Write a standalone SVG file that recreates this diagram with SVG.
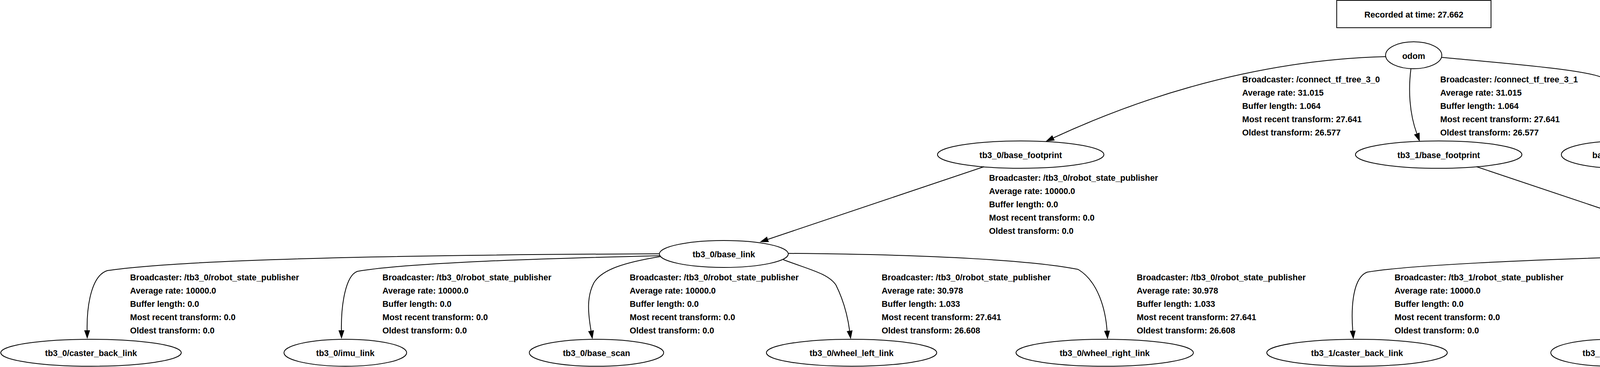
<svg xmlns="http://www.w3.org/2000/svg" width="6589" height="940" viewBox="0 0 6589 940">
<defs>
<style>
text{font-family:"Liberation Sans",Arial,sans-serif;font-weight:bold;font-size:21.5px;fill:#000}
.node ellipse,.node rect{fill:none;stroke:#000;stroke-width:2}
.node text{text-anchor:middle}
.edge path{fill:none;stroke:#000;stroke-width:2;marker-end:url(#arrow)}
</style>
<marker id="arrow" markerUnits="userSpaceOnUse" markerWidth="22" markerHeight="16" viewBox="0 0 22 16" refX="0" refY="8" orient="auto">
<path d="M0,0.5 L22,8 L0,15.5 z" fill="#000"/>
</marker>
</defs>
<rect x="0" y="0" width="6589" height="940" fill="#fff"/>

<g id="title" class="node">
<rect x="3422" y="1" width="395" height="70"/>
<text x="3619.5" y="45">Recorded at time: 27.662</text>
</g>

<g id="odom" class="node"><ellipse cx="3619" cy="141.5" rx="72" ry="34.5"/><text x="3619" y="151">odom</text></g>
<g id="tb3_0_base_footprint" class="node"><ellipse cx="2613" cy="396" rx="213" ry="35"/><text x="2613" y="404.5">tb3_0/base_footprint</text></g>
<g id="tb3_1_base_footprint" class="node"><ellipse cx="3683" cy="396" rx="213" ry="35"/><text x="3683" y="404.5">tb3_1/base_footprint</text></g>
<g id="base_footprint" class="node"><ellipse cx="4151" cy="396" rx="154" ry="35"/><text x="4151" y="404.5">base_footprint</text></g>
<g id="tb3_0_base_link" class="node"><ellipse cx="1853" cy="650.5" rx="165" ry="34.5"/><text x="1853" y="658.5">tb3_0/base_link</text></g>
<g id="tb3_1_base_link" class="node"><ellipse cx="4446" cy="650" rx="164" ry="35"/><text x="4446" y="658.5">tb3_1/base_link</text></g>
<g id="tb3_0_caster_back_link" class="node"><ellipse cx="233" cy="903.5" rx="231" ry="34.5"/><text x="233" y="912">tb3_0/caster_back_link</text></g>
<g id="tb3_0_imu_link" class="node"><ellipse cx="884" cy="903.5" rx="157" ry="34.5"/><text x="884" y="912">tb3_0/imu_link</text></g>
<g id="tb3_0_base_scan" class="node"><ellipse cx="1527" cy="903.5" rx="172" ry="34.5"/><text x="1527" y="912">tb3_0/base_scan</text></g>
<g id="tb3_0_wheel_left_link" class="node"><ellipse cx="2180" cy="903.5" rx="218" ry="34.5"/><text x="2180" y="912">tb3_0/wheel_left_link</text></g>
<g id="tb3_0_wheel_right_link" class="node"><ellipse cx="2828" cy="903.5" rx="227" ry="34.5"/><text x="2828" y="912">tb3_0/wheel_right_link</text></g>
<g id="tb3_1_caster_back_link" class="node"><ellipse cx="3474" cy="903.5" rx="231" ry="34.5"/><text x="3474" y="912">tb3_1/caster_back_link</text></g>
<g id="tb3_1_imu_link" class="node"><ellipse cx="4126" cy="903.5" rx="156" ry="34.5"/><text x="4126" y="912">tb3_1/imu_link</text></g>
<g id="tb3_1_base_scan" class="node"><ellipse cx="4770" cy="903.5" rx="172" ry="34.5"/><text x="4770" y="912">tb3_1/base_scan</text></g>
<g id="tb3_1_wheel_left_link" class="node"><ellipse cx="5420" cy="903.5" rx="217" ry="34.5"/><text x="5420" y="912">tb3_1/wheel_left_link</text></g>
<g id="tb3_1_wheel_right_link" class="node"><ellipse cx="6067" cy="903.5" rx="227" ry="34.5"/><text x="6067" y="912">tb3_1/wheel_right_link</text></g>

<g id="connectors">
<g class="edge" id="e_odom_tb3_0_bf">
<path d="M3548,145 C3350,150 3050,190 2697,353"/>
<text><tspan x="3180" y="211">Broadcaster: /connect_tf_tree_3_0</tspan><tspan x="3180" y="245">Average rate: 31.015</tspan><tspan x="3180" y="279">Buffer length: 1.064</tspan><tspan x="3180" y="313">Most recent transform: 27.641</tspan><tspan x="3180" y="347">Oldest transform: 26.577</tspan></text>
</g>
<g class="edge" id="e_odom_tb3_1_bf">
<path d="M3612,176 C3605,230 3608,290 3627,342"/>
<text><tspan x="3687" y="211">Broadcaster: /connect_tf_tree_3_1</tspan><tspan x="3687" y="245">Average rate: 31.015</tspan><tspan x="3687" y="279">Buffer length: 1.064</tspan><tspan x="3687" y="313">Most recent transform: 27.641</tspan><tspan x="3687" y="347">Oldest transform: 26.577</tspan></text>
</g>
<g class="edge" id="e_odom_bf">
<path d="M3691,147 C3850,162 4060,178 4105,200 C4145,225 4155,290 4155,338"/>
<text><tspan x="4229" y="211">Broadcaster: /gazebo</tspan><tspan x="4229" y="245">Average rate: 44.403</tspan><tspan x="4229" y="279">Buffer length: 1.081</tspan><tspan x="4229" y="313">Most recent transform: 27.641</tspan><tspan x="4229" y="347">Oldest transform: 26.56</tspan></text>
</g>
<g class="edge" id="e_tb3_0_bf_bl">
<path d="M2519,427 L1966,613"/>
<text><tspan x="2532" y="463">Broadcaster: /tb3_0/robot_state_publisher</tspan><tspan x="2532" y="497">Average rate: 10000.0</tspan><tspan x="2532" y="531">Buffer length: 0.0</tspan><tspan x="2532" y="565">Most recent transform: 0.0</tspan><tspan x="2532" y="599">Oldest transform: 0.0</tspan></text>
</g>
<g class="edge" id="e_tb3_1_bf_bl">
<path d="M3780,427 L4334,613"/>
<text><tspan x="4363" y="463">Broadcaster: /tb3_1/robot_state_publisher</tspan><tspan x="4363" y="497">Average rate: 10000.0</tspan><tspan x="4363" y="531">Buffer length: 0.0</tspan><tspan x="4363" y="565">Most recent transform: 0.0</tspan><tspan x="4363" y="599">Oldest transform: 0.0</tspan></text>
</g>

<g class="edge" id="e_tb3_0_caster">
<path d="M1689,650 C1200,652 500,660 275,693 C235,705 222,780 223,846"/>
<text><tspan x="333" y="718">Broadcaster: /tb3_0/robot_state_publisher</tspan><tspan x="333" y="752">Average rate: 10000.0</tspan><tspan x="333" y="786">Buffer length: 0.0</tspan><tspan x="333" y="820">Most recent transform: 0.0</tspan><tspan x="333" y="854">Oldest transform: 0.0</tspan></text>
</g>
<g class="edge" id="e_tb3_0_imu">
<path d="M1689,655 C1400,662 1050,672 915,695 C885,705 873,780 874,846"/>
<text><tspan x="979" y="718">Broadcaster: /tb3_0/robot_state_publisher</tspan><tspan x="979" y="752">Average rate: 10000.0</tspan><tspan x="979" y="786">Buffer length: 0.0</tspan><tspan x="979" y="820">Most recent transform: 0.0</tspan><tspan x="979" y="854">Oldest transform: 0.0</tspan></text>
</g>
<g class="edge" id="e_tb3_0_scan">
<path d="M1691,657 C1600,672 1540,690 1520,725 C1502,760 1505,800 1513,847"/>
<text><tspan x="1612" y="718">Broadcaster: /tb3_0/robot_state_publisher</tspan><tspan x="1612" y="752">Average rate: 10000.0</tspan><tspan x="1612" y="786">Buffer length: 0.0</tspan><tspan x="1612" y="820">Most recent transform: 0.0</tspan><tspan x="1612" y="854">Oldest transform: 0.0</tspan></text>
</g>
<g class="edge" id="e_tb3_0_wheel_left">
<path d="M2005,665 C2070,690 2120,700 2140,730 C2160,770 2170,810 2175,847"/>
<text><tspan x="2257" y="718">Broadcaster: /tb3_0/robot_state_publisher</tspan><tspan x="2257" y="752">Average rate: 30.978</tspan><tspan x="2257" y="786">Buffer length: 1.033</tspan><tspan x="2257" y="820">Most recent transform: 27.641</tspan><tspan x="2257" y="854">Oldest transform: 26.608</tspan></text>
</g>
<g class="edge" id="e_tb3_0_wheel_right">
<path d="M2018,649 C2400,652 2650,668 2760,690 C2810,720 2830,790 2834,847"/>
<text><tspan x="2910" y="718">Broadcaster: /tb3_0/robot_state_publisher</tspan><tspan x="2910" y="752">Average rate: 30.978</tspan><tspan x="2910" y="786">Buffer length: 1.033</tspan><tspan x="2910" y="820">Most recent transform: 27.641</tspan><tspan x="2910" y="854">Oldest transform: 26.608</tspan></text>
</g>

<g class="edge" id="e_tb3_1_caster">
<path d="M4284,655 C3900,665 3600,680 3500,697 C3465,710 3458,780 3463,847"/>
<text><tspan x="3570" y="718">Broadcaster: /tb3_1/robot_state_publisher</tspan><tspan x="3570" y="752">Average rate: 10000.0</tspan><tspan x="3570" y="786">Buffer length: 0.0</tspan><tspan x="3570" y="820">Most recent transform: 0.0</tspan><tspan x="3570" y="854">Oldest transform: 0.0</tspan></text>
</g>
<g class="edge" id="e_tb3_1_imu">
<path d="M4287,660 C4200,680 4150,690 4130,720 C4105,760 4105,810 4110,847"/>
<text><tspan x="4210" y="718">Broadcaster: /tb3_1/robot_state_publisher</tspan><tspan x="4210" y="752">Average rate: 10000.0</tspan><tspan x="4210" y="786">Buffer length: 0.0</tspan><tspan x="4210" y="820">Most recent transform: 0.0</tspan><tspan x="4210" y="854">Oldest transform: 0.0</tspan></text>
</g>
<g class="edge" id="e_tb3_1_scan">
<path d="M4597,663 C4660,690 4710,700 4725,735 C4745,780 4760,820 4764,847"/>
<text><tspan x="4845" y="718">Broadcaster: /tb3_1/robot_state_publisher</tspan><tspan x="4845" y="752">Average rate: 10000.0</tspan><tspan x="4845" y="786">Buffer length: 0.0</tspan><tspan x="4845" y="820">Most recent transform: 0.0</tspan><tspan x="4845" y="854">Oldest transform: 0.0</tspan></text>
</g>
<g class="edge" id="e_tb3_1_wheel_left">
<path d="M4610,650 C5000,653 5250,670 5360,695 C5395,720 5410,800 5415,847"/>
<text><tspan x="5495" y="718">Broadcaster: /tb3_1/robot_state_publisher</tspan><tspan x="5495" y="752">Average rate: 30.978</tspan><tspan x="5495" y="786">Buffer length: 1.033</tspan><tspan x="5495" y="820">Most recent transform: 27.641</tspan><tspan x="5495" y="854">Oldest transform: 26.608</tspan></text>
</g>
<g class="edge" id="e_tb3_1_wheel_right">
<path d="M4610,651 C5300,655 5900,670 6005,698 C6050,730 6066,800 6068,846"/>
<text><tspan x="6149" y="718">Broadcaster: /tb3_1/robot_state_publisher</tspan><tspan x="6149" y="752">Average rate: 30.978</tspan><tspan x="6149" y="786">Buffer length: 1.033</tspan><tspan x="6149" y="820">Most recent transform: 27.641</tspan><tspan x="6149" y="854">Oldest transform: 26.608</tspan></text>
</g>
</g>
</svg>
